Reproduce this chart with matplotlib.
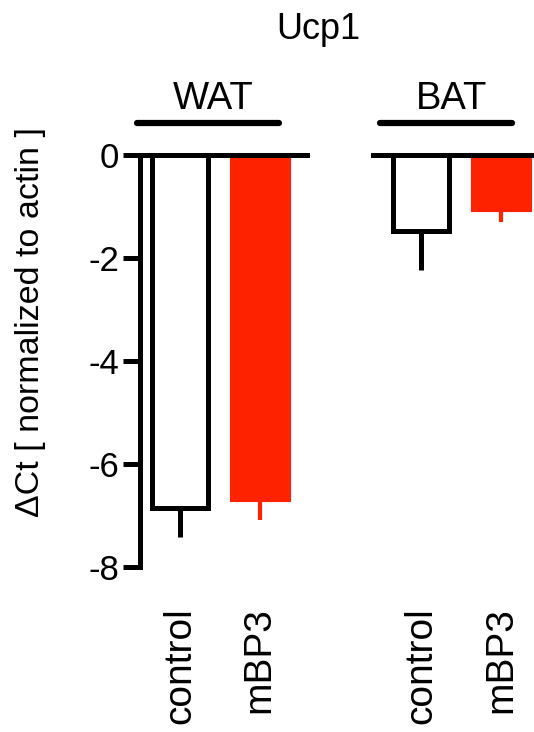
import matplotlib
matplotlib.use('Agg')
import matplotlib.pyplot as plt
import matplotlib.transforms as mtransforms


# Data (Ucp1, delta Ct normalized to actin)
groups = ['WAT', 'BAT']
categories = ['control', 'mBP3']
wat_means = [-6.85, -6.72]
wat_err = [0.57, 0.37]
bat_means = [-1.47, -1.09]
bat_err = [0.76, 0.21]
yticks = [0, -2, -4, -6, -8]
#-----------------------------

plt.rcParams['font.family'] = ['Liberation Sans', 'DejaVu Sans']
plt.rcParams['axes.unicode_minus'] = False

red = '#ff2200'
lw = 3.6

W, H = 534, 732
fig = plt.figure(figsize=(W / 100, H / 100), dpi=100)

# axes boxes in pixels (left, right), shared top/bottom
top_px, bot_px = 155, 567
ax1 = fig.add_axes([140 / W, (H - bot_px) / H, (307 - 140) / W, (bot_px - top_px) / H])
ax2 = fig.add_axes([373 / W, (H - bot_px) / H, (W - 373) / W, (bot_px - top_px) / H])


def draw_group(ax, means, errs, name, xlim, line_span):
	pos = list(range(len(means)))
	ax.bar(pos[0], means[0], width=0.69, color='white', edgecolor='black',
		linewidth=lw, zorder=2)
	ax.bar(pos[1], means[1], width=0.75, color=red, edgecolor=red,
		linewidth=0.8, zorder=2)
	ax.errorbar(pos[0], means[0], yerr=[[errs[0]], [0]], fmt='none',
		ecolor='black', elinewidth=lw, capsize=0, zorder=3)
	ax.errorbar(pos[1], means[1], yerr=[[errs[1]], [0]], fmt='none',
		ecolor=red, elinewidth=3.0, capsize=0, zorder=3)

	ax.set_xlim(*xlim)
	ax.set_ylim(-8, 0)

	for s in ['right', 'bottom']:
		ax.spines[s].set_visible(False)
	ax.spines['top'].set_linewidth(lw)
	ax.spines['left'].set_linewidth(lw)

	ax.set_xticks(pos)
	ax.set_xticklabels(categories, rotation=90, fontsize=28, va='top')
	ax.tick_params(axis='x', length=0, pad=29)

	# group header with bar
	trans = mtransforms.blended_transform_factory(ax.transData, ax.transAxes)
	ax.plot(line_span, [1.078, 1.078], color='black', lw=4.5,
		solid_capstyle='round', transform=trans, clip_on=False)
	ax.text(sum(line_span) / 2 + 0.07, 1.112, name, transform=trans,
		ha='center', va='baseline', fontsize=27.5)


draw_group(ax1, wat_means, wat_err, groups[0], (-0.5, 1.59), [-0.54, 1.24])
draw_group(ax2, bat_means, bat_err, groups[1], (-0.6, 1.41), [-0.51, 1.14])

ax1.set_yticks(yticks)
ax1.set_yticklabels([str(t) for t in yticks], fontsize=25)
ax1.tick_params(axis='y', length=12, width=lw, pad=3)

ax2.spines['left'].set_visible(False)
ax2.set_yticks([])

fig.text(0.057, (H - 322) / H, '\u0394Ct [ normalized to actin ]', rotation=90,
	ha='center', va='center', fontsize=24.5)
fig.text(318 / W, (H - 39) / H, 'Ucp1', ha='center', va='baseline', fontsize=26)

fig.savefig('out.png', dpi=100)
